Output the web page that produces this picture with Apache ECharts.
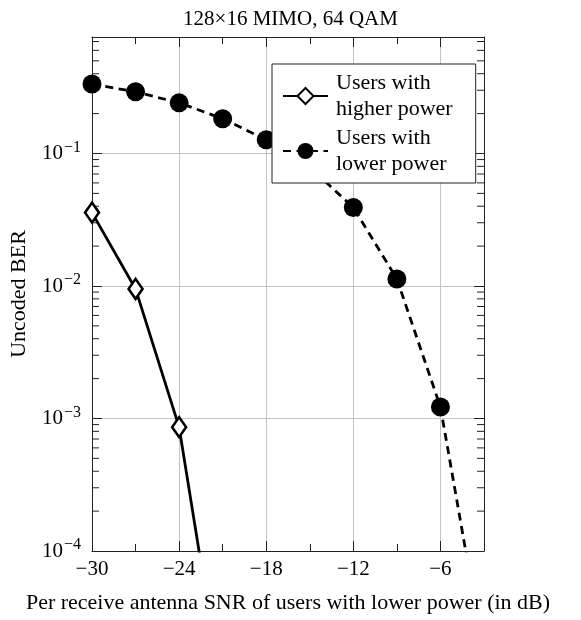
<!DOCTYPE html>
<html>
<head>
<meta charset="utf-8">
<script src="https://cdn.jsdelivr.net/npm/echarts@6/dist/echarts.min.js"></script>
<style>
  html, body { margin: 0; padding: 0; background: #fff; }
  #chart { width: 581px; height: 620px; }
</style>
</head>
<body>
<div id="chart"></div>
<script>
// Per-antenna SNR of the lower-power users (dB)
const snrHigh = [-30, -27, -24, -21];
const berHigh = [0.0358, 0.0095, 0.00086, 0.0000078];
const snrLow = [-30, -27, -24, -21, -18, -15, -12, -9, -6, -3];
const berLow = [0.334, 0.292, 0.241, 0.183, 0.127, 0.079, 0.0391, 0.0113, 0.00122, 0.0000164];

const seriesNames = ['Users with\nhigher power', 'Users with\nlower power'];
const titleText = '128\u00d716 MIMO, 64 QAM';
const xTitle = 'Per receive antenna SNR of users with lower power (in dB)';
const yTitle = 'Uncoded BER';

const xMin = -30, xMax = -3, xStep = 6;
const yMin = 1e-4, yMax = 0.757;

// Minor tick values of the log axis (2..9 x 10^k)
const yMinorTicks = [];
for (let e = -4; e <= -1; e++) {
  for (let m = 2; m <= 9; m++) {
    const v = m * Math.pow(10, e);
    if (v < yMax) yMinorTicks.push(v);
  }
}

const FONT = 'Liberation Serif';
const INK = '#000';
const FRAME = '#222';
const GRID = '#c4c4c4';

const minus = s => String(s).replace('-', '\u2212');

const chart = echarts.init(document.getElementById('chart'), null, { renderer: 'canvas' });

const tickCommon = { show: true, inside: true, length: 10, lineStyle: { color: FRAME, width: 1 } };

chart.setOption({
  animation: false,
  backgroundColor: '#fff',
  textStyle: { fontFamily: FONT },
  title: {
    text: titleText,
    left: 'center',
    top: 4,
    textStyle: { fontFamily: FONT, fontSize: 21, fontWeight: 'normal', color: INK }
  },
  grid: { left: 92, right: 97, top: 37, bottom: 69, containLabel: false },
  legend: {
    data: seriesNames,
    orient: 'vertical',
    left: 272,
    top: 64,
    padding: [6, 23, 6, 10],
    itemGap: 3,
    itemWidth: 45,
    itemHeight: 20,
    backgroundColor: '#fff',
    borderColor: FRAME,
    borderWidth: 1,
    borderRadius: 0,
    textStyle: { fontFamily: FONT, fontSize: 22, color: INK, lineHeight: 26, padding: [0, 0, 0, 3] }
  },
  xAxis: [
    {
      type: 'value', min: xMin, max: xMax, interval: xStep,
      name: xTitle, nameLocation: 'middle', nameGap: 41,
      nameTextStyle: { fontFamily: FONT, fontSize: 22, color: INK },
      axisLine: { show: true, onZero: false, lineStyle: { color: FRAME, width: 1 } },
      axisTick: tickCommon,
      minorTick: { show: true, splitNumber: 2, length: 7, lineStyle: { color: FRAME, width: 1 } },
      axisLabel: { show: true, margin: 8, showMaxLabel: false, fontFamily: FONT, fontSize: 21, color: INK,
        formatter: v => minus(v) },
      splitLine: { show: true, lineStyle: { color: GRID, width: 1 } },
      minorSplitLine: { show: false }
    },
    {
      type: 'value', min: xMin, max: xMax, interval: xStep, position: 'top',
      axisLine: { show: true, onZero: false, lineStyle: { color: FRAME, width: 1 } },
      axisTick: tickCommon,
      minorTick: { show: true, splitNumber: 2, length: 7, lineStyle: { color: FRAME, width: 1 } },
      axisLabel: { show: false },
      splitLine: { show: false }
    }
  ],
  yAxis: [
    {
      type: 'log', logBase: 10, min: yMin, max: yMax,
      name: yTitle, nameLocation: 'middle', nameGap: 62, nameRotate: 90,
      nameTextStyle: { fontFamily: FONT, fontSize: 22, color: INK },
      axisLine: { show: true, onZero: false, lineStyle: { color: FRAME, width: 1 } },
      axisTick: tickCommon,
      axisLabel: {
        show: true, margin: 11, showMaxLabel: false,
        formatter: v => {
          const e = Math.round(Math.log10(v));
          return '{b|10}{s|' + minus(e) + '}';
        },
        rich: {
          b: { fontFamily: FONT, fontSize: 21, color: INK },
          s: { fontFamily: FONT, fontSize: 16, color: INK, padding: [0, 0, 12, 1] }
        }
      },
      splitLine: { show: true, lineStyle: { color: GRID, width: 1 } }
    },
    {
      type: 'log', logBase: 10, min: yMin, max: yMax, position: 'right',
      axisLine: { show: true, onZero: false, lineStyle: { color: FRAME, width: 1 } },
      axisTick: tickCommon,
      axisLabel: { show: false },
      splitLine: { show: false }
    }
  ],
  series: [
    {
      name: seriesNames[0],
      type: 'line',
      data: snrHigh.map((x, i) => [x, berHigh[i]]),
      symbol: 'diamond',
      symbolSize: [14, 20],
      showAllSymbol: true,
      clip: true,
      z: 3,
      lineStyle: { color: INK, width: 2.8, type: 'solid' },
      itemStyle: { color: '#fff', borderColor: INK, borderWidth: 2.6 }
    },
    {
      name: seriesNames[1],
      type: 'line',
      data: snrLow.map((x, i) => [x, berLow[i]]),
      symbol: 'circle',
      symbolSize: 19,
      showAllSymbol: true,
      clip: true,
      z: 3,
      lineStyle: { color: INK, width: 2.8, type: [8, 5.5] },
      itemStyle: { color: INK, borderColor: INK, borderWidth: 0 }
    },
    {
      // minor ticks of the logarithmic axis, on both vertical frame edges
      name: 'yMinor',
      type: 'custom',
      silent: true,
      clip: false,
      z: 1,
      data: yMinorTicks.map(v => [v]),
      renderItem: (params, api) => {
        const v = api.value(0);
        const l = api.coord([xMin, v]);
        const r = api.coord([xMax, v]);
        const st = { stroke: FRAME, lineWidth: 1 };
        return {
          type: 'group',
          children: [
            { type: 'line', shape: { x1: l[0], y1: l[1], x2: l[0] + 7, y2: l[1] }, style: st },
            { type: 'line', shape: { x1: r[0] - 7, y1: r[1], x2: r[0], y2: r[1] }, style: st }
          ]
        };
      },
      encode: { x: -1, y: 0 }
    }
  ]
});
</script>
</body>
</html>
